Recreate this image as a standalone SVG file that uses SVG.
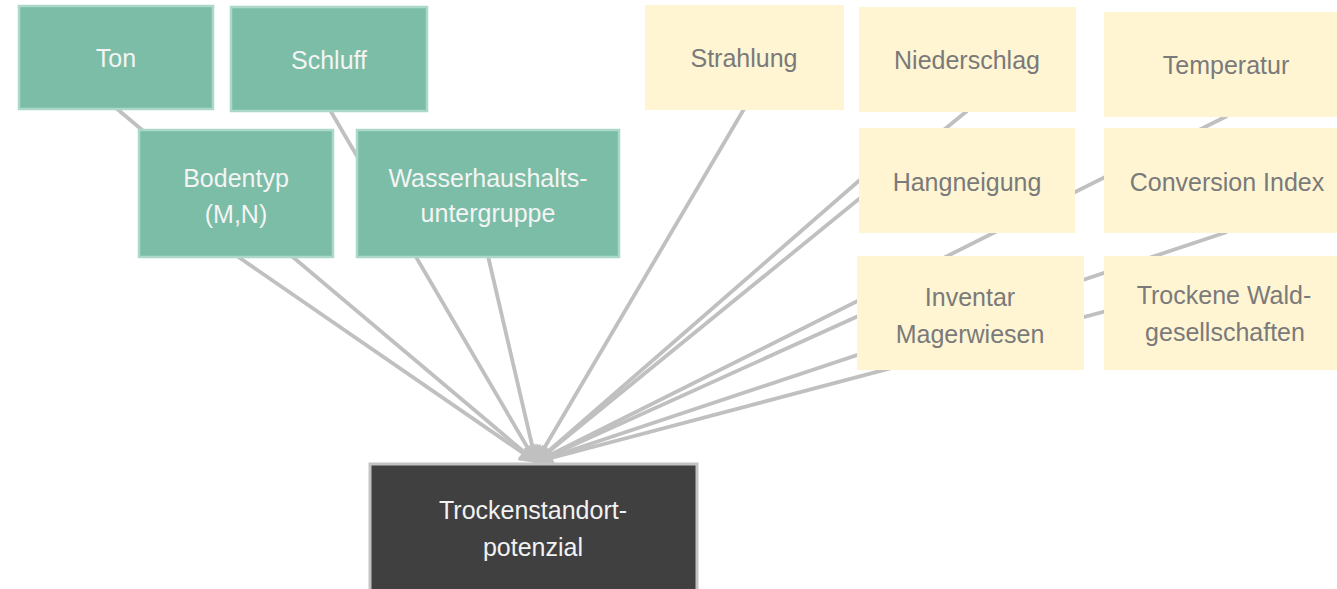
<svg xmlns="http://www.w3.org/2000/svg" width="1337" height="589" viewBox="0 0 1337 589">
  <style>
    .edge { stroke: #c0c0c0; stroke-width: 3.8; fill: none; marker-end: url(#arrow); }
    .green { fill: #7bbda6; stroke: #acd9c7; stroke-width: 2.5; }
    .yellow { fill: #fff5d3; stroke: none; }
    .dark { fill: #404040; stroke: #c3c3c3; stroke-width: 3; }
    text { font-family: "Liberation Sans", Arial, sans-serif; font-size: 25px; text-anchor: middle; }
    .tg { fill: #f4f4f4; }
    .ty { fill: #7a7a7a; }
    .td { fill: #f2f2f2; }
  </style>
  <defs>
    <marker id="arrow" viewBox="0 0 10 10" refX="9" refY="5" markerUnits="userSpaceOnUse" markerWidth="20" markerHeight="18" orient="auto">
      <path d="M0,0 L10,5 L0,10 z" fill="#c0c0c0"/>
    </marker>
  </defs>
  <rect width="1337" height="589" fill="#ffffff"/>

  <g id="connectors">
    <line class="edge" x1="116" y1="108" x2="536" y2="462"/>
    <line class="edge" x1="237" y1="256" x2="536" y2="462"/>
    <line class="edge" x1="330" y1="110" x2="536" y2="462"/>
    <line class="edge" x1="488" y1="256" x2="536" y2="462"/>
    <line class="edge" x1="744" y1="109" x2="536" y2="462"/>
    <line class="edge" x1="967" y1="111" x2="536" y2="462"/>
    <line class="edge" x1="900" y1="145" x2="536" y2="462"/>
    <line class="edge" x1="1227" y1="116" x2="536" y2="462"/>
    <line class="edge" x1="1227" y1="232" x2="536" y2="462"/>
    <line class="edge" x1="960" y1="270" x2="536" y2="462"/>
    <line class="edge" x1="1220" y1="281" x2="536" y2="462"/>
  </g>

  <g id="ton">
    <rect class="green" x="19" y="6" width="194" height="103"/>
    <text class="tg" x="116" y="67">Ton</text>
  </g>
  <g id="schluff">
    <rect class="green" x="231" y="7" width="196" height="104"/>
    <text class="tg" x="329" y="69">Schluff</text>
  </g>
  <g id="bodentyp">
    <rect class="green" x="139" y="130" width="194" height="127"/>
    <text class="tg" x="236" y="187">Bodentyp</text>
    <text class="tg" x="236" y="223">(M,N)</text>
  </g>
  <g id="wasserhaushalt">
    <rect class="green" x="357" y="130" width="262" height="127"/>
    <text class="tg" x="488" y="187">Wasserhaushalts-</text>
    <text class="tg" x="488" y="222">untergruppe</text>
  </g>

  <g id="strahlung">
    <rect class="yellow" x="645" y="5" width="199" height="105"/>
    <text class="ty" x="744" y="67">Strahlung</text>
  </g>
  <g id="niederschlag">
    <rect class="yellow" x="859" y="7" width="217" height="105"/>
    <text class="ty" x="967" y="69">Niederschlag</text>
  </g>
  <g id="temperatur">
    <rect class="yellow" x="1104" y="12" width="244" height="105"/>
    <text class="ty" x="1226" y="74">Temperatur</text>
  </g>
  <g id="hangneigung">
    <rect class="yellow" x="859" y="128" width="216" height="105"/>
    <text class="ty" x="967" y="191">Hangneigung</text>
  </g>
  <g id="conversion">
    <rect class="yellow" x="1104" y="128" width="244" height="105"/>
    <text class="ty" x="1227" y="191">Conversion Index</text>
  </g>
  <g id="inventar">
    <rect class="yellow" x="857" y="256" width="227" height="114"/>
    <text class="ty" x="970" y="306">Inventar</text>
    <text class="ty" x="970" y="343">Magerwiesen</text>
  </g>
  <g id="trockenewald">
    <rect class="yellow" x="1104" y="256" width="244" height="114"/>
    <text class="ty" x="1224" y="304">Trockene Wald-</text>
    <text class="ty" x="1225" y="341">gesellschaften</text>
  </g>

  <g id="trockenstandort">
    <rect class="dark" x="370" y="464" width="327" height="140"/>
    <text class="td" x="533" y="519">Trockenstandort-</text>
    <text class="td" x="533" y="556">potenzial</text>
  </g>
</svg>
